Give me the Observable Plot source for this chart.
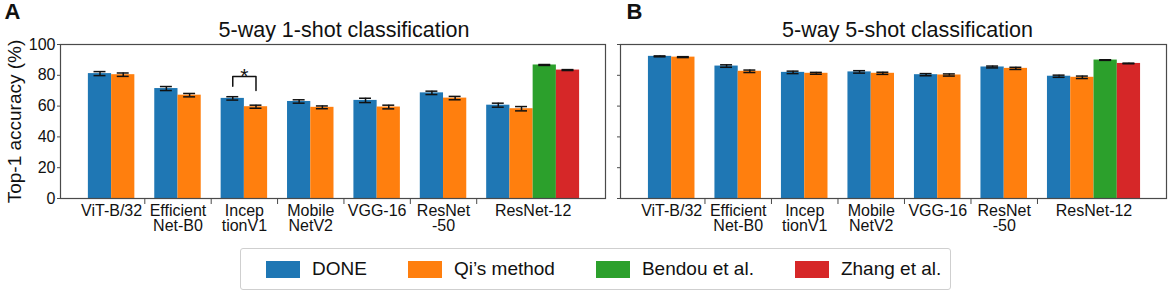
<!DOCTYPE html>
<html><head><meta charset="utf-8">
<script src="https://cdn.jsdelivr.net/npm/d3@7"></script>
<script src="https://cdn.jsdelivr.net/npm/@observablehq/plot@0.6"></script>
<style>
body{margin:0;background:#fff;font-family:"Liberation Sans",Arial,sans-serif;}
#root{position:relative;width:1170px;height:296px;overflow:hidden;background:#fff;}
.panel{position:absolute;top:0;}
#legend{position:absolute;left:240px;top:248px;width:711px;height:42px;box-sizing:border-box;border:1px solid #cfcfcf;border-radius:3px;display:flex;align-items:center;padding-left:25px;gap:41px;font-size:19px;color:#111;}
.item{display:flex;align-items:center;}
.sw{width:34px;height:17px;margin-right:12px;}
</style></head><body><div id="root"></div>
<script>
// ---- data ----
const categories = ["ViT-B/32","Efficient\nNet-B0","Incep\ntionV1","Mobile\nNetV2","VGG-16","ResNet\n-50","ResNet-12"];
const methods = ["DONE","Qi’s method","Bendou et al.","Zhang et al."];
const colors = ["#1f77b4","#ff7f0e","#2ca02c","#d62728"];
const yTicks = [0,20,40,60,80,100];
const titles = ["5-way 1-shot classification","5-way 5-shot classification"];
const panelLetters = ["A","B"];
const yLabel = "Top-1 accuracy (%)";

const oneShotMean = [[81.1,80.4],[71.4,67.1],[65.0,59.6],[63.0,59.2],[63.7,59.4],[68.6,65.2],[60.6,58.3,86.7,83.4]];
const oneShotErr  = [[1.3,1.1],[1.3,1.1],[1.1,1.0],[1.1,0.9],[1.4,1.2],[1.1,1.1],[1.3,1.4,0.3,0.3]];
const fiveShotMean = [[92.3,91.8],[86.0,82.6],[81.9,81.3],[82.2,81.3],[80.4,80.2],[85.4,84.5],[79.4,78.7,89.9,87.7]];
const fiveShotErr  = [[0.3,0.3],[0.8,0.8],[0.8,0.6],[0.8,0.7],[0.7,0.7],[0.6,0.7],[0.7,0.8,0.2,0.2]];

// significance bracket (panel A, InceptionV1: DONE vs Qi's method)
const sigGroup = 2;
const sigBracketY = [72.9, 79.3, 70.1];
const sigLabel = "*";

// ---- build ----
const BW = 0.35;
function rowsOf(means, errs){
  const rows = [];
  means.forEach((g,i)=>g.forEach((m,j)=>{
    const x1 = i - BW + j*BW;
    rows.push({i, j, method: methods[j], mean: m, err: errs[i][j], x1, x2: x1+BW, xc: x1+BW/2});
  }));
  return rows;
}
const groupCenters = oneShotMean.map((g,i)=> i - BW + g.length*BW/2);
const boundaries = d3.range(categories.length-1).map(i=>i+0.5);
const FONT = "'Liberation Sans', Arial, sans-serif";

function panel(k, means, errs, opts){
  const rows = rowsOf(means, errs);
  const marks = [
    Plot.rectY(rows, {x1:"x1", x2:"x2", y1:0, y2:"mean", fill:"method"}),
    Plot.ruleX(rows, {x:"xc", y1:d=>d.mean-d.err, y2:d=>d.mean+d.err, stroke:"#111", strokeWidth:1.5}),
    Plot.ruleY(rows, {y:d=>d.mean+d.err, x1:d=>d.xc-0.09, x2:d=>d.xc+0.09, stroke:"#111", strokeWidth:1.5}),
    Plot.ruleY(rows, {y:d=>d.mean-d.err, x1:d=>d.xc-0.09, x2:d=>d.xc+0.09, stroke:"#111", strokeWidth:1.5}),
    Plot.frame({stroke:"#4a4a4a", strokeWidth:1.2}),
    Plot.axisY({ticks:yTicks, tickSize:3, tickPadding:2, fontSize:16, label:null,
      tickFormat: opts.showY ? (d=>String(d)) : (()=>""), stroke:"#4a4a4a"}),
    Plot.axisX({ticks:boundaries, tickSize:6, tickFormat:()=>"", label:null, stroke:"#4a4a4a"}),
    Plot.axisX({ticks:groupCenters, tickSize:0, tickPadding:6, fontSize:16, lineHeight:0.97, label:null,
      tickFormat:(d)=>categories[groupCenters.indexOf(d)]}),
    Plot.text([titles[k]], {frameAnchor:"top", lineAnchor:"middle", dx:opts.titleDx, dy:-14, fontSize:21.5, text:d=>d}),
    Plot.text([panelLetters[k]], {frameAnchor:"top-left", textAnchor:"start", lineAnchor:"middle", dx:opts.letterDx, dy:-33, fontSize:22, fontWeight:"bold", text:d=>d})
  ];
  if (opts.showY) {
    marks.push(Plot.text([yLabel], {frameAnchor:"left", textAnchor:"middle", rotate:-90, dx:-46, fontSize:19, text:d=>d}));
  }
  if (opts.sig) {
    const a = rows.find(r=>r.i===sigGroup && r.j===0), b = rows.find(r=>r.i===sigGroup && r.j===1);
    const pts = [{x:a.xc,y:sigBracketY[0]},{x:a.xc,y:sigBracketY[1]},{x:b.xc,y:sigBracketY[1]},{x:b.xc,y:sigBracketY[2]}];
    marks.push(Plot.line(pts, {x:"x", y:"y", stroke:"#111", strokeWidth:1.5}));
    marks.push(Plot.text([sigLabel], {x:(a.xc+b.xc)/2, y:sigBracketY[1], lineAnchor:"bottom", dy:7, fontSize:21, text:d=>d}));
  }
  return Plot.plot({
    width: opts.width, height: 240,
    marginTop: 44, marginBottom: 42, marginLeft: opts.ml, marginRight: opts.mr,
    x: {domain:[-0.77, 7.44]},
    y: {domain:[0,100]},
    color: {domain: methods, range: colors},
    style: {fontFamily: FONT, color:"#111", background:"transparent", overflow:"visible"},
    marks
  });
}

const root = document.getElementById("root");
const pa = panel(0, oneShotMean, oneShotErr, {width:610, ml:60, mr:5, showY:true, sig:true, letterDx:-56, titleDx:11});
pa.classList.add("panel"); pa.style.left = "0px";
const pb = panel(1, fiveShotMean, fiveShotErr, {width:560, ml:10, mr:4, showY:false, sig:false, letterDx:6, titleDx:14});
pb.classList.add("panel"); pb.style.left = "610px";
root.appendChild(pa); root.appendChild(pb);

const legend = document.createElement("div");
legend.id = "legend";
methods.forEach((m,j)=>{
  const it = document.createElement("div"); it.className = "item";
  const sw = document.createElement("span"); sw.className = "sw"; sw.style.background = colors[j];
  const tx = document.createElement("span"); tx.textContent = m;
  it.appendChild(sw); it.appendChild(tx); legend.appendChild(it);
});
root.appendChild(legend);
</script></body></html>
